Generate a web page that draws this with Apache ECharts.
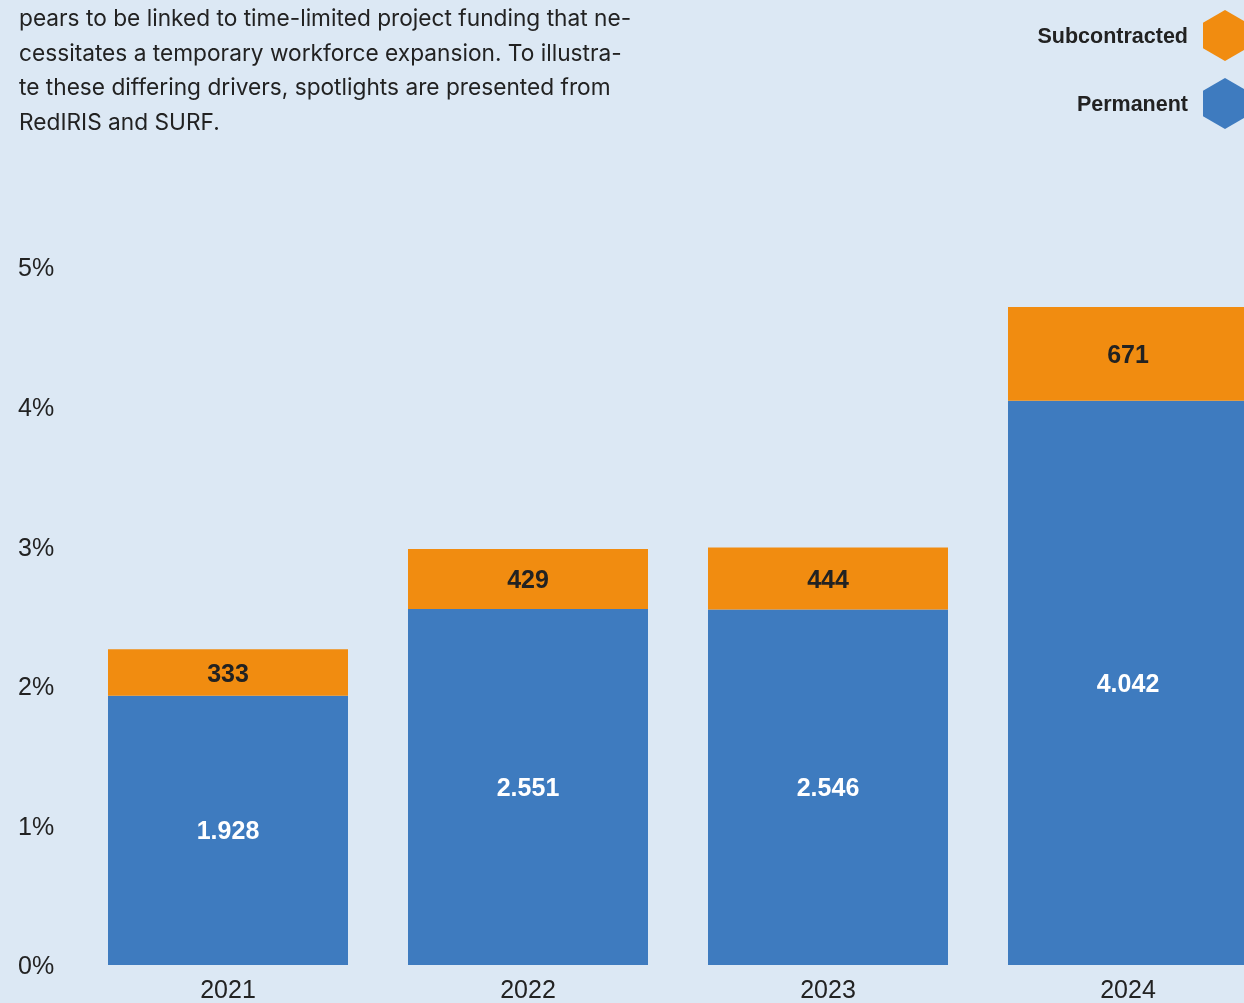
<!DOCTYPE html>
<html>
<head>
<meta charset="utf-8">
<script src="https://cdn.jsdelivr.net/npm/echarts@6/dist/echarts.min.js"></script>
<style>
html,body{margin:0;padding:0;background:#dce8f4;overflow:hidden;}
#c{width:1278px;height:1003px;}
</style>
</head>
<body>
<div id="c"></div>
<script>
const categories = ['2021', '2022', '2023', '2024'];
const permanent = [1928, 2551, 2546, 4042];
const subcontracted = [333, 429, 444, 671];
const yTicks = [0, 1000, 2000, 3000, 4000, 5000];
const paragraph = [
  'pears to be linked to time-limited project funding that ne-',
  'cessitates a temporary workforce expansion. To illustra-',
  'te these differing drivers, spotlights are presented from',
  'RedIRIS and SURF.'
];

const fmt = v => String(v).replace(/\B(?=(\d{3})+(?!\d))/g, '.');
const hex = 'path://M22,0 L44,12.7 L44,38.3 L22,51 L0,38.3 L0,12.7 Z';
const FONT = 'Liberation Sans, Arial, sans-serif';

const chart = echarts.init(document.getElementById('c'), null, {renderer: 'canvas'});
chart.setOption({
  backgroundColor: '#dce8f4',
  animation: false,
  legend: {
    data: [
      {name: 'Subcontracted', icon: hex},
      {name: 'Permanent', icon: hex}
    ],
    orient: 'vertical',
    align: 'right',
    right: 31,
    top: 10,
    padding: 0,
    itemWidth: 44,
    itemHeight: 51,
    itemGap: 17,
    formatter: n => '{t|' + n + '}',
    textStyle: {
      fontFamily: FONT, fontWeight: 'bold', fontSize: 21.5, color: '#222', padding: [0, 10, 0, 0],
      rich: {t: {fontFamily: FONT, fontWeight: 'bold', fontSize: 21.5, color: '#222', padding: [4, 0, 0, 0]}}
    }
  },
  graphic: paragraph.map((t, i) => ({
    type: 'text',
    left: 19,
    top: 8 + i * 34.5,
    style: {text: t, font: '22.7px Inter, sans-serif', fill: '#222'}
  })),
  grid: {left: 78, right: 0, top: 267, bottom: 38, containLabel: false, outerBoundsMode: 'none'},
  xAxis: {
    type: 'category',
    data: categories,
    axisLine: {show: false},
    axisTick: {show: false},
    axisLabel: {fontFamily: FONT, fontSize: 25, color: '#222', margin: 14}
  },
  yAxis: {
    type: 'value',
    min: 0, max: 5000, interval: 1000,
    splitLine: {show: false},
    axisLine: {show: false},
    axisTick: {show: false},
    axisLabel: {
      align: 'left', margin: 60,
      fontFamily: FONT, fontSize: 25, color: '#222',
      formatter: v => yTicks.indexOf(v) >= 0 ? '{p|' + (v / 1000) + '%}' : '',
      rich: {p: {fontFamily: FONT, fontSize: 25, color: '#222', padding: [5, 0, 0, 0]}}
    }
  },
  series: [
    {
      name: 'Permanent', type: 'bar', stack: 'a', data: permanent,
      barWidth: 240,
      itemStyle: {color: '#3e7bbf'},
      label: {show: true, position: 'inside', formatter: p => fmt(p.value), offset: [0, 2],
        fontFamily: FONT, fontWeight: 'bold', fontSize: 25, color: '#fff'}
    },
    {
      name: 'Subcontracted', type: 'bar', stack: 'a', data: subcontracted,
      barWidth: 240,
      itemStyle: {color: '#f18c10'},
      label: {show: true, position: 'inside', formatter: p => fmt(p.value), offset: [0, 2.5],
        fontFamily: FONT, fontWeight: 'bold', fontSize: 25, color: '#222'}
    }
  ]
});
</script>
</body>
</html>
